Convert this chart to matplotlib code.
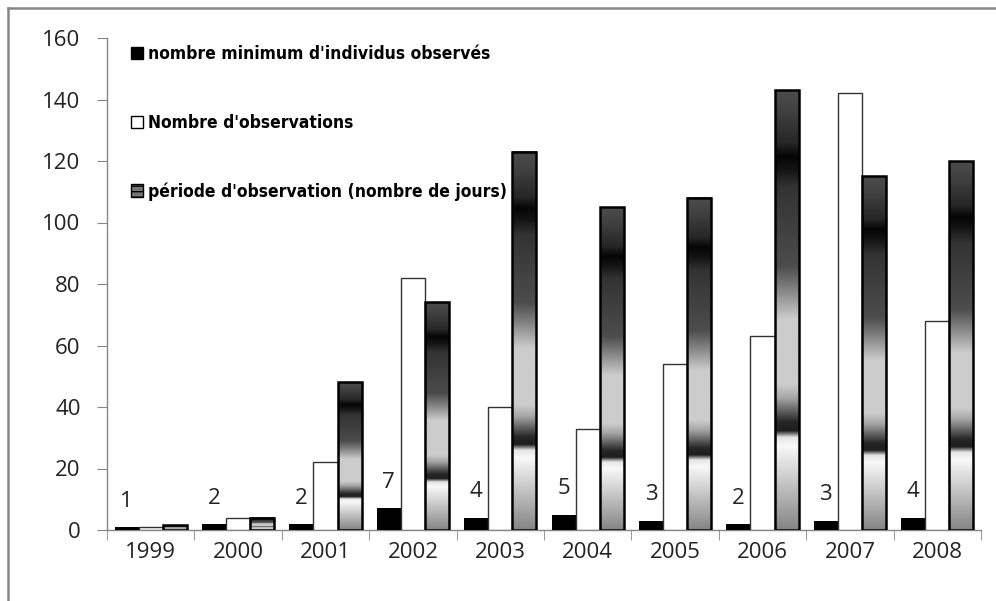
import numpy as np
import matplotlib
matplotlib.use('Agg')
from matplotlib import pyplot as plt
from matplotlib.patches import Patch
from matplotlib.lines import Line2D

years = ['1999', '2000', '2001', '2002', '2003', '2004', '2005', '2006', '2007', '2008']
individus = [1, 2, 2, 7, 4, 5, 3, 2, 3, 4]
observations = [1, 4, 22, 82, 40, 33, 54, 63, 142, 68]
periode = [1.5, 4, 48, 74, 123, 105, 108, 143, 115, 120]

label_ind = "nombre minimum d'individus observés"
label_obs = "Nombre d'observations"
label_per = "période d'observation (nombre de jours)"

# gray stops of the bar fill, bottom -> top (style only)
grad_pos = [0, 0.19, 0.21, 0.225, 0.245, 0.3, 0.33, 0.48, 0.55, 0.6, 0.78, 0.82, 0.85, 0.88, 0.95, 1.0]
grad_val = [0.52, 0.97, 0.9, 0.12, 0.15, 0.65, 0.8, 0.8, 0.5, 0.3, 0.2, 0.08, 0.02, 0.15, 0.25, 0.3]

if __name__ == "__main__":
    plt.rcParams['font.family'] = ['Open Sans', 'DejaVu Sans']
    fig = plt.figure(figsize=(9.96, 6.01), dpi=100)
    ax = fig.add_axes([107/996, 1 - 530/601, 874/996, 492/601])

    x = np.arange(len(years))
    w = 0.275
    ax.bar(x - w, individus, w, color='black', zorder=3)
    ax.bar(x, observations, w, color='white', edgecolor='#333333', lw=1, zorder=3)
    bars = ax.bar(x + w, periode, w, color='none', edgecolor='black', lw=1.8, zorder=4)

    t = np.linspace(0, 1, 400)
    grad = np.interp(t, grad_pos, grad_val).reshape(-1, 1)
    for b in bars:
        x0 = b.get_x()
        h = b.get_height()
        ax.imshow(grad, extent=[x0, x0 + b.get_width(), 0, h], origin='lower',
                  aspect='auto', cmap='gray', vmin=0, vmax=1, zorder=3,
                  interpolation='bilinear')

    for xi, v in zip(x, individus):
        ax.annotate(str(v), (xi - w, v), xytext=(0, 11), textcoords='offset points',
                    ha='center', va='bottom', fontsize=16, color='#222222')

    ax.set_xlim(-0.5, len(years) - 0.5)
    ax.set_ylim(0, 160)
    ax.set_yticks(range(0, 161, 20))
    ax.set_xticks(x)
    ax.set_xticklabels(years)
    ax.set_xticks(np.arange(-0.5, len(years), 1), minor=True)
    ax.tick_params(axis='x', which='major', length=0, pad=9, labelsize=16, colors='#222222')
    ax.tick_params(axis='x', which='minor', length=7, color='#868686', direction='out')
    ax.tick_params(axis='y', length=7, color='#868686', labelsize=16, pad=12, labelcolor='#222222')
    for s in ['top', 'right']:
        ax.spines[s].set_visible(False)
    for s in ['left', 'bottom']:
        ax.spines[s].set_color('#868686')
        ax.spines[s].set_linewidth(1)

    handles = [Patch(facecolor='black', edgecolor='black'),
               Patch(facecolor='white', edgecolor='black'),
               Patch(facecolor='#777777', edgecolor='black', hatch='---')]
    ax.legend(handles, [label_ind, label_obs, label_per], loc='upper left',
              bbox_to_anchor=(0.027, 0.985), frameon=False, borderpad=0, borderaxespad=0,
              handlelength=0.7, handleheight=0.7, handletextpad=0.3, labelspacing=2.9,
              prop={'family': 'DejaVu Sans', 'stretch': 'condensed', 'weight': 'bold', 'size': 12.5})

    # outer chart frame
    fig.add_artist(Line2D([7.5/996, 7.5/996], [0, 1 - 7.5/601], transform=fig.transFigure,
                          color='#868686', lw=1.8))
    fig.add_artist(Line2D([7.5/996, 1], [1 - 7.5/601, 1 - 7.5/601], transform=fig.transFigure,
                          color='#868686', lw=1.8))

    fig.savefig('out.png', dpi=100)
